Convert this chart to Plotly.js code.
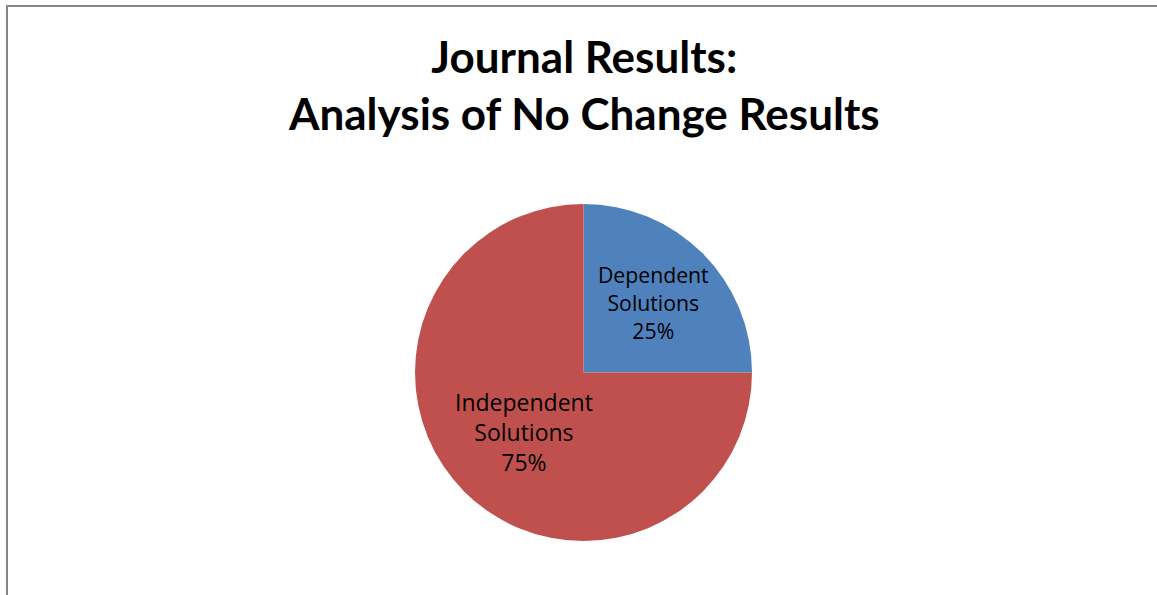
<!DOCTYPE html>
<html>
<head>
<meta charset="utf-8">
<script src="https://cdn.plot.ly/plotly-3.0.1.min.js"></script>
<style>
html,body{margin:0;padding:0;background:#fff;overflow:hidden;}
#frame{position:absolute;left:6px;top:5px;width:1150px;height:600px;border-top:2px solid #868686;border-left:2px solid #868686;}
#chart{position:absolute;left:0;top:0;width:1157px;height:595px;}
</style>
</head>
<body>
<div id="frame"></div>
<div id="chart"></div>
<script>
const categories = ["Dependent<br>Solutions", "Independent<br>Solutions"];
const values = [25, 75];
const colors = ["#4F81BD", "#C0504D"];
const titleLines = ["Journal Results:", "Analysis of No Change Results"];

const data = [{
  type: "pie",
  labels: categories,
  values: values,
  sort: false,
  direction: "clockwise",
  rotation: 0,
  marker: {colors: colors, line: {width: 0}},
  texttemplate: "%{label}<br>%{percent:.0%}",
  textposition: "inside",
  insidetextorientation: "horizontal",
  textfont: {family: "Open Sans, sans-serif", size: 23, color: "#000"},
  hoverinfo: "none",
  showlegend: false
}];

const layout = {
  width: 1157,
  height: 595,
  paper_bgcolor: "rgba(0,0,0,0)",
  plot_bgcolor: "rgba(0,0,0,0)",
  margin: {l: 415, r: 405, t: 204, b: 54, pad: 0},
  title: {
    text: titleLines.join("<br>"),
    x: 0.505, xref: "container", xanchor: "center",
    y: 0.878, yref: "container", yanchor: "middle",
    font: {family: "Lato, sans-serif", size: 44, color: "#000", weight: "bold"}
  },
  showlegend: false
};

Plotly.newPlot("chart", data, layout, {staticPlot: true, displayModeBar: false});
</script>
</body>
</html>
